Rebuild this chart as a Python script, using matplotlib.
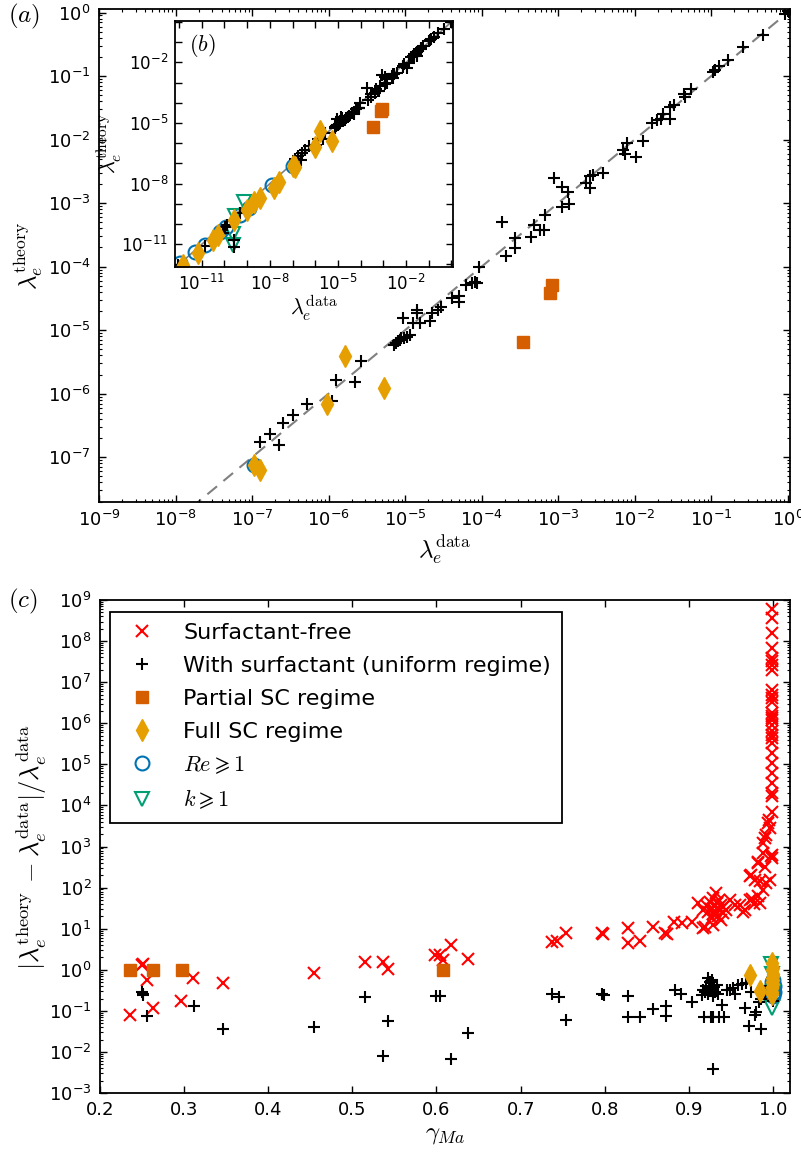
import numpy as np
import matplotlib
matplotlib.use("Agg")
import matplotlib.pyplot as plt
from matplotlib.ticker import FixedLocator, FuncFormatter, LogLocator, NullLocator, MultipleLocator

plt.rcParams['font.family'] = ['DejaVu Sans']
plt.rcParams['mathtext.fontset'] = 'dejavusans'
plt.rcParams['xtick.direction'] = 'in'
plt.rcParams['ytick.direction'] = 'in'
plt.rcParams['xtick.top'] = True
plt.rcParams['ytick.right'] = True
plt.rcParams['axes.linewidth'] = 1.3

# ---- panels (a)/(b): log10 of lambda_e^data (x) and lambda_e^theory (y) ----
uniform_logx = [-12.03, -10.85, -10.05, -9.97, -9.57, -9.57, -9.31, -9.90,
                -6.89, -6.76, -6.65, -6.60, -6.47, -6.28, -5.96, -5.90, -5.66, -5.58,
                -5.14, -5.12, -5.09, -5.07, -5.05, -5.02, -4.98, -4.94, -5.03, -4.90,
                -4.85, -4.84, -4.80, -4.67, -4.65, -4.57, -4.53, -4.39, -4.29, -4.29,
                -4.20, -4.13, -4.09, -4.06, -4.03,
                -3.74, -3.68, -3.56, -3.56, -3.36, -3.31, -3.24, -3.18, -3.17,
                -3.05, -2.95, -2.87, -2.95, -2.86, -2.63, -2.58, -2.58, -2.55, -2.41,
                -2.15, -2.12, -2.10, -1.98, -1.89, -1.77, -1.71, -1.66, -1.63, -1.54,
                -1.54, -1.49, -1.36, -1.34, -1.27, -0.98, -0.95, -0.90, -0.78, -0.58,
                -0.32, -0.03, 0.00, 0.02]
uniform_logy = [-12.02, -11.10, -10.46, -10.13, -10.79, -11.15, -9.47, -10.05,
                -6.76, -6.64, -6.81, -6.46, -6.34, -6.16, -6.11, -5.78, -5.81, -5.49,
                -5.23, -5.20, -5.17, -5.15, -5.12, -5.12, -5.10, -5.07, -4.81, -4.89,
                -4.68, -4.73, -4.89, -4.86, -4.73, -4.68, -4.63, -4.50, -4.47, -4.55,
                -4.29, -4.26, -4.24, -4.25, -4.01,
                -3.29, -3.84, -3.55, -3.71, -3.53, -3.34, -3.43, -3.43, -3.18,
                -2.61, -2.74, -2.82, -3.06, -3.01, -2.69, -2.58, -2.77, -2.56, -2.53,
                -2.17, -2.23, -2.06, -2.27, -2.03, -1.74, -1.69, -1.67, -1.59, -1.67,
                -1.48, -1.46, -1.29, -1.33, -1.21, -0.93, -0.91, -0.84, -0.75, -0.55,
                -0.35, -0.02, 0.02, 0.01]

partial_logx = [-3.08, -3.11, -3.46]
partial_logy = [-4.29, -4.41, -5.19]

full_logx = [-5.79, -5.28, -6.02, -6.90, -6.97, -7.84, -7.62, -8.43, -8.72,
             -9.01, -9.60, -10.27, -10.49, -11.15, -11.81]
full_logy = [-5.40, -5.91, -6.17, -7.20, -7.12, -8.23, -7.90, -8.73, -8.89,
             -9.30, -9.80, -10.54, -10.79, -11.45, -12.02]

re_logx = [-6.97, -7.91, -8.94, -9.31, -9.93, -10.19, -10.85, -11.30, -11.96]
re_logy = [-7.12, -8.07, -9.22, -9.55, -10.13, -10.38, -11.03, -11.36, -11.94]

k_logx = [-9.16, -9.55, -9.62, -9.63]
k_logy = [-8.89, -9.60, -10.50, -11.05]

# ---- panel (c): gamma_Ma and log10 of relative error ----
free_gamma = [0.236, 0.250, 0.251, 0.256, 0.263, 0.297, 0.311, 0.346, 0.455, 0.515,
              0.536, 0.542, 0.598, 0.604, 0.608, 0.617, 0.637, 0.737, 0.743, 0.754,
              0.797, 0.798, 0.827, 0.827, 0.842, 0.857, 0.872, 0.874, 0.882, 0.892,
              0.904, 0.911, 0.917, 0.917, 0.919, 0.929,
              0.921, 0.923, 0.925, 0.926, 0.928, 0.929, 0.930, 0.931, 0.932, 0.933,
              0.934, 0.935, 0.936, 0.937, 0.938, 0.940, 0.940, 0.944, 0.927, 0.938,
              0.949, 0.955, 0.961, 0.964, 0.966, 0.972, 0.975, 0.977, 0.982, 0.984,
              0.988, 0.992, 0.996,
              0.972, 0.974, 0.978, 0.984, 0.982, 0.982, 0.988, 0.990, 0.988, 0.990,
              0.992, 0.994, 0.995, 0.996, 0.997, 0.998, 0.998,
              0.999, 0.999, 0.999, 0.999, 0.999, 0.999, 0.999, 0.999, 0.999, 0.999,
              0.999, 0.999, 0.999, 0.999, 0.999, 0.999, 0.999, 0.999, 0.999, 0.999,
              0.999, 0.999, 0.999, 0.999, 0.999, 0.999, 0.999, 0.999]
free_logerr = [-1.10, 0.12, 0.15, -0.25, -0.94, -0.76, -0.20, -0.33, -0.09, 0.20,
               0.20, 0.03, 0.36, 0.36, 0.24, 0.60, 0.26, 0.68, 0.71, 0.89,
               0.89, 0.86, 1.01, 0.64, 0.71, 1.03, 0.90, 0.86, 1.17, 1.13,
               1.17, 1.62, 1.46, 1.01, 1.05, 1.09,
               1.55, 1.40, 1.65, 1.48, 1.35, 1.75, 1.55, 1.42, 1.87, 1.62,
               1.50, 1.30, 1.70, 1.45, 1.58, 1.38, 1.52, 1.45, 1.25, 1.22,
               1.70, 1.58, 1.58, 1.41, 1.46, 1.70, 1.72, 1.60, 1.80, 1.62,
               1.95, 2.11, 2.18,
               2.29, 2.31, 2.19, 2.15, 2.63, 2.59, 2.84, 2.51, 3.08, 3.20,
               3.29, 3.57, 3.65, 3.45, 2.76, 2.80, 2.72,
               3.85, 4.22, 4.30, 4.54, 4.79, 5.03, 5.27, 5.52, 5.64, 5.72,
               5.80, 5.96, 6.08, 6.13, 6.17, 6.25, 6.53, 6.61, 6.69, 6.82,
               7.30, 7.43, 7.51, 7.59, 7.84, 8.20, 8.57, 8.77]

surf_gamma = [0.250, 0.251, 0.252, 0.256, 0.312, 0.346, 0.455, 0.515, 0.536, 0.542,
              0.600, 0.604, 0.617, 0.637, 0.737, 0.746, 0.754, 0.797, 0.799, 0.827,
              0.827, 0.842, 0.857, 0.873, 0.873, 0.883, 0.891, 0.903, 0.915, 0.917,
              0.919, 0.918, 0.923, 0.925, 0.927, 0.920, 0.924, 0.926, 0.928, 0.930,
              0.931, 0.933, 0.934, 0.929, 0.922, 0.926, 0.929, 0.936, 0.929, 0.939,
              0.941, 0.945, 0.949, 0.952, 0.955, 0.958, 0.963, 0.968, 0.966, 0.971,
              0.974, 0.978, 0.980, 0.983, 0.985, 0.986, 0.990, 0.995, 1.000, 0.998]
surf_logerr = [-0.54, -0.60, -0.62, -1.13, -0.89, -1.45, -1.39, -0.67, -2.10, -1.25,
               -0.64, -0.64, -2.16, -1.55, -0.59, -0.66, -1.21, -0.59, -0.61, -0.64,
               -1.16, -1.16, -0.96, -0.89, -1.13, -0.50, -0.59, -0.78, -0.62, -0.50,
               -0.54, -1.16, -0.21, -0.29, -0.25, -0.40, -0.45, -0.52, -0.48, -0.42,
               -0.55, -0.38, -0.60, -0.63, -0.60, -1.16, -1.16, -1.14, -2.41, -0.86,
               -1.15, -0.48, -0.50, -0.45, -0.58, -0.37, -0.35, -0.33, -0.94, -1.37,
               -0.54, -1.10, -1.03, -0.78, -1.43, -0.70, -0.60, -0.40, -0.75, -0.20]

partial_gamma = [0.236, 0.263, 0.298, 0.608]
partial_logerr = [0.0, 0.0, 0.0, 0.0]

full_gamma = [0.972, 0.984, 0.998, 0.998, 0.999, 0.999, 1.000, 0.999, 1.000, 0.999,
              1.000, 0.998, 1.000, 0.999, 1.000]
full_logerr = [-0.13, -0.52, 0.16, -0.41, -0.20, -0.30, -0.25, -0.45, -0.35, 0.00,
               -0.10, -0.55, 0.05, -0.60, -0.15]

re_gamma = [1.000, 0.999, 1.000, 1.001, 1.000, 0.999, 1.001, 1.000, 1.000]
re_logerr = [-0.25, -0.30, -0.35, -0.40, -0.45, -0.50, -0.55, -0.60, -0.65]

k_gamma = [0.997, 0.998, 1.000, 0.999]
k_logerr = [0.15, -0.10, -0.55, -0.92]

labels = ['Surfactant-free', 'With surfactant (uniform regime)', 'Partial SC regime',
          'Full SC regime', r'$Re\geqslant1$', r'$k\geqslant1$']

c_free = 'red'
c_surf = 'black'
c_partial = '#D55E00'
c_full = '#E69F00'
c_re = '#0072B2'
c_k = '#009E73'


def p10(v):
    return np.power(10.0, np.asarray(v, dtype=float))


def style_ticks(ax, major=5, minor=2.5):
    ax.tick_params(which='major', length=major, width=1.0, labelsize=13, pad=6)
    ax.tick_params(which='minor', length=minor, width=0.8)


def draw_lambda(ax):
    ax.plot(p10(re_logx), p10(re_logy), 'o', ms=10, mfc='none', mec=c_re, mew=1.5, ls='none')
    ax.plot(p10(k_logx), p10(k_logy), 'v', ms=10, mfc='none', mec=c_k, mew=1.5, ls='none')
    ax.plot(p10(uniform_logx), p10(uniform_logy), '+', ms=8, color=c_surf, mew=1.5, ls='none')
    ax.plot(p10(partial_logx), p10(partial_logy), 's', ms=8, color=c_partial, mec=c_partial, ls='none')
    ax.plot(p10(full_logx), p10(full_logy), 'd', ms=11, color=c_full, mec=c_full, ls='none')


fig = plt.figure(figsize=(8.01, 11.53), dpi=100)

# ---------- panel (a) ----------
ax_a = fig.add_axes([0.1236, 0.5649, 0.8627, 0.4270])
ax_a.set_xscale('log')
ax_a.set_yscale('log')
ref = np.array([1e-13, 10.0])
ax_a.plot(ref, ref, '--', color='0.5', lw=1.5, dashes=(6, 4), zorder=1)
draw_lambda(ax_a)
ax_a.set_xlim(1e-9, 10 ** 0.03)
ax_a.set_ylim(10 ** -7.70, 10 ** 0.05)
ax_a.xaxis.set_major_locator(LogLocator(base=10, numticks=20))
ax_a.yaxis.set_major_locator(LogLocator(base=10, numticks=20))
ax_a.xaxis.set_minor_locator(LogLocator(base=10, subs=np.arange(2, 10), numticks=20))
ax_a.yaxis.set_minor_locator(LogLocator(base=10, subs=np.arange(2, 10), numticks=20))
style_ticks(ax_a)
xl = ax_a.set_xlabel(r'$\lambda_e^{\rm data}$', fontsize=18, labelpad=2)
xl.set_math_fontfamily('cm')
yl = ax_a.set_ylabel(r'$\lambda_e^{\rm theory}$', fontsize=18, labelpad=2)
yl.set_math_fontfamily('cm')
fig.text(0.010, 0.986, r'$(a)$', fontsize=18, math_fontfamily='cm', va='center')

# ---------- inset (b) ----------
ax_b = fig.add_axes([0.2185, 0.7687, 0.3474, 0.2133])
ax_b.set_xscale('log')
ax_b.set_yscale('log')
ax_b.plot(ref, ref, '-', color='0.5', lw=1.2, zorder=1)
draw_lambda(ax_b)
ax_b.set_xlim(10 ** -12.18, 10 ** 0.08)
ax_b.set_ylim(10 ** -12.11, 10 ** 0.06)
decades = 10.0 ** np.arange(-12, 1)
shown = [-11, -8, -5, -2]


def inset_fmt(v, pos):
    e = int(round(np.log10(v)))
    return r'$\mathdefault{10^{%d}}$' % e if e in shown else ''


for axis in (ax_b.xaxis, ax_b.yaxis):
    axis.set_major_locator(FixedLocator(decades))
    axis.set_major_formatter(FuncFormatter(inset_fmt))
    axis.set_minor_locator(NullLocator())
ax_b.tick_params(which='major', length=5, width=1.0, labelsize=12, pad=5)
xl = ax_b.set_xlabel(r'$\lambda_e^{\rm data}$', fontsize=16, labelpad=0)
xl.set_math_fontfamily('cm')
yl = ax_b.set_ylabel(r'$\lambda_e^{\rm theory}$', fontsize=16, labelpad=-2)
yl.set_math_fontfamily('cm')
ax_b.text(0.05, 0.9, r'$(b)$', transform=ax_b.transAxes, fontsize=16,
          math_fontfamily='cm', va='center')

# ---------- panel (c) ----------
ax_c = fig.add_axes([0.1245, 0.0520, 0.8618, 0.4276])
ax_c.set_yscale('log')
h_re, = ax_c.plot(re_gamma, p10(re_logerr), 'o', ms=10, mfc='none', mec=c_re, mew=1.5, ls='none')
h_k, = ax_c.plot(k_gamma, p10(k_logerr), 'v', ms=10, mfc='none', mec=c_k, mew=1.5, ls='none')
h_free, = ax_c.plot(free_gamma, p10(free_logerr), 'x', ms=8, color=c_free, mew=1.5, ls='none')
h_surf, = ax_c.plot(surf_gamma, p10(surf_logerr), '+', ms=8, color=c_surf, mew=1.5, ls='none')
h_part, = ax_c.plot(partial_gamma, p10(partial_logerr), 's', ms=8, color=c_partial, mec=c_partial, ls='none')
h_full, = ax_c.plot(full_gamma, p10(full_logerr), 'd', ms=11, color=c_full, mec=c_full, ls='none')
ax_c.set_xlim(0.2, 1.02)
ax_c.set_ylim(1e-3, 1e9)
ax_c.xaxis.set_major_locator(MultipleLocator(0.1))
ax_c.xaxis.set_major_formatter(FuncFormatter(lambda v, p: '%.1f' % v))
ax_c.yaxis.set_major_locator(LogLocator(base=10, numticks=20))
ax_c.yaxis.set_minor_locator(LogLocator(base=10, subs=np.arange(2, 10), numticks=20))
style_ticks(ax_c)
xl = ax_c.set_xlabel(r'$\gamma_{Ma}$', fontsize=18, labelpad=2)
xl.set_math_fontfamily('cm')
yl = ax_c.set_ylabel(r'$|\lambda_e^{\rm theory}\,-\lambda_e^{\rm data}|/\lambda_e^{\rm data}$',
                     fontsize=19, labelpad=0)
yl.set_math_fontfamily('cm')
fig.text(0.010, 0.478, r'$(c)$', fontsize=18, math_fontfamily='cm', va='center')

leg = ax_c.legend([h_free, h_surf, h_part, h_full, h_re, h_k], labels,
                  loc='upper left', bbox_to_anchor=(0.015, 0.976), borderaxespad=0,
                  numpoints=1, fontsize=16, fancybox=False, framealpha=1,
                  edgecolor='black', handlelength=1.9, handletextpad=0.9,
                  labelspacing=0.58, borderpad=0.5)
leg.get_frame().set_linewidth(1.3)
for t in leg.get_texts()[4:]:
    t.set_math_fontfamily('cm')

fig.savefig('out.png', dpi=100)
